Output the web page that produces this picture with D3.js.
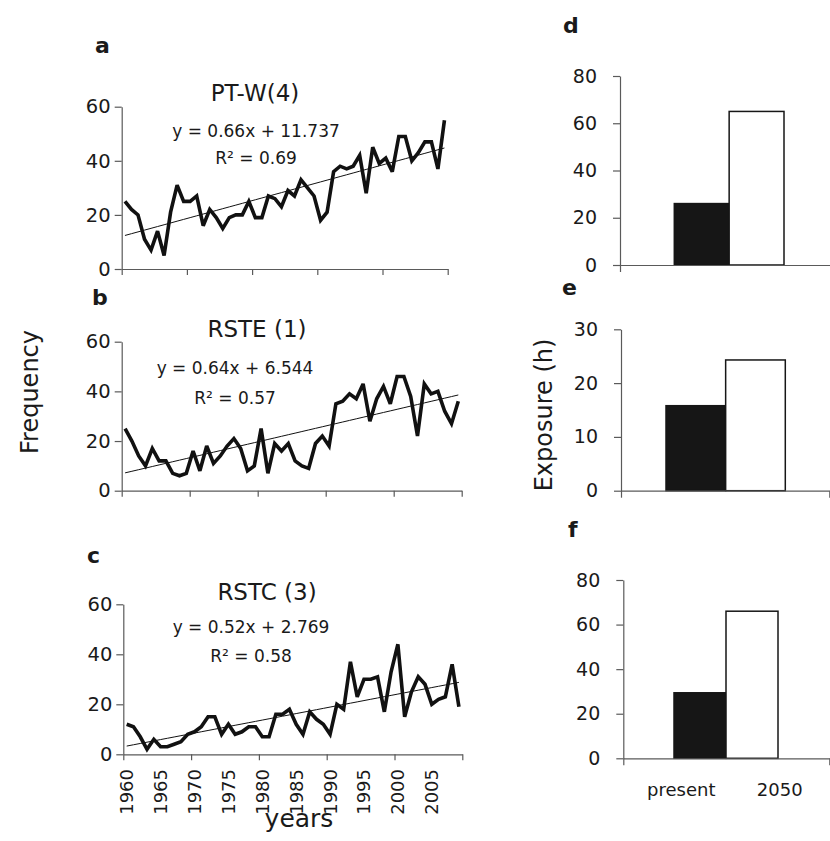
<!DOCTYPE html>
<html><head><meta charset="utf-8">
<script src="https://cdn.jsdelivr.net/npm/d3@7"></script>
<style>
body{margin:0;background:#fff}
svg{display:block}
text{font-family:"DejaVu Sans",sans-serif;fill:#1a1a1a}
</style>
</head><body>
<svg id="chart" width="830" height="841"></svg>
<script>
// ---------- DATA ----------
const years = [1960,1961,1962,1963,1964,1965,1966,1967,1968,1969,
               1970,1971,1972,1973,1974,1975,1976,1977,1978,1979,
               1980,1981,1982,1983,1984,1985,1986,1987,1988,1989,
               1990,1991,1992,1993,1994,1995,1996,1997,1998,1999,
               2000,2001,2002,2003,2004,2005,2006,2007,2008,2009];
const yearLabels = [1960,1965,1970,1975,1980,1985,1990,1995,2000,2005];
const yearTicks  = [1960,1970,1980,1990,2000,2010];

const ptw  = [25,22,20,11,7,14,5,21,31,25, 25,27,16,22,19,15,19,20,20,25,
              19,19,27,26,23,29,27,33,30,27, 18,21,36,38,37,38,42,28,45,39,
              41,36,49,49,40,43,47,47,37,55];
const rste = [25,20,14,10,17,12,12,7,6,7, 16,8,18,11,14,18,21,17,8,10,
              25,7,19,16,19,12,10,9,19,22, 18,35,36,39,37,43,28,37,42,35,
              46,46,38,22,43,39,40,32,27,36];
const rstc = [12,11,7,2,6,3,3,4,5,8, 9,11,15,15,8,12,8,9,11,11,
              7,7,16,16,18,12,8,17,14,12, 8,20,18,37,23,30,30,31,17,33,
              44,15,25,31,28,20,22,23,36,19];

const lineTitles = ["PT-W(4)", "RSTE (1)", "RSTC (3)"];
const trendSlopes = [0.66, 0.64, 0.52];
const trendIntercepts = [11.737, 6.544, 2.769];
const trendEquations = ["y = 0.66x + 11.737", "y = 0.64x + 6.544", "y = 0.52x + 2.769"];
const trendR2 = ["R\u00B2 = 0.69", "R\u00B2 = 0.57", "R\u00B2 = 0.58"];
const lineTicks = [0, 20, 40, 60];

const periods = ["present", "2050"];
const exposureD = [26, 65];
const exposureE = [15.8, 24.3];
const exposureF = [29.4, 66];
const barTicksDF = [0, 20, 40, 60, 80];
const barTicksE = [0, 10, 20, 30];

// ---------- LAYOUT ----------
const svg = d3.select("#chart");
const axisColor = "#5a5a5a";

const linePanels = [
  {letter:"a", lx:95,  ly:53,  data:ptw,  x0:121.7, x1:447.7, yb:269,   yt:106.7, titleX:255, titleY:101, eqX:256, eqY:137, r2Y:164, labels:false},
  {letter:"b", lx:92,  ly:305, data:rste, x0:121.7, x1:461.7, yb:490.7, yt:341.7, titleX:257, titleY:337, eqX:235, eqY:374, r2Y:404, labels:false},
  {letter:"c", lx:87,  ly:563, data:rstc, x0:123.3, x1:462.3, yb:754.3, yt:604.3, titleX:267, titleY:600, eqX:251, eqY:633, r2Y:662, labels:true}
];

function styleAxis(g, fs){
  g.selectAll("path.domain").attr("stroke", axisColor).attr("stroke-width", 1.2);
  g.selectAll(".tick line").attr("stroke", axisColor).attr("stroke-width", 1.2);
  g.selectAll(".tick text").style("font-family", '"DejaVu Sans",sans-serif').style("font-size", fs).attr("fill", "#1a1a1a");
}

linePanels.forEach((p, k) => {
  const xb = d3.scaleBand().domain(years).range([p.x0, p.x1]).padding(0);
  const xl = d3.scaleLinear().domain([1960, 2010]).range([p.x0, p.x1]);
  const y = d3.scaleLinear().domain([0, 60]).range([p.yb, p.yt]);
  const cx = d => xb(d) + xb.bandwidth() / 2;

  svg.append("text").attr("x", p.lx).attr("y", p.ly)
    .style("font-size", "22px").style("font-weight", "bold").text(p.letter);

  const gx = svg.append("g").attr("transform", `translate(0,${p.yb})`)
    .call(d3.axisBottom(xl).tickValues(yearTicks).tickFormat("").tickSize(6).tickSizeOuter(0));
  styleAxis(gx, "19px");

  const gy = svg.append("g").attr("transform", `translate(${p.x0},0)`)
    .call(d3.axisLeft(y).tickValues(lineTicks).tickSize(7).tickPadding(4).tickSizeOuter(0));
  styleAxis(gy, "19.5px");

  const trend = d3.line()
    .x(d => cx(d))
    .y((d, i) => y(trendSlopes[k] * (i + 1) + trendIntercepts[k]));
  svg.append("path").datum(years).attr("d", trend)
    .attr("fill", "none").attr("stroke", "#111").attr("stroke-width", 1);

  const line = d3.line().x((d, i) => cx(years[i])).y(d => y(d));
  svg.append("path").datum(p.data).attr("d", line)
    .attr("fill", "none").attr("stroke", "#111").attr("stroke-width", 3.6)
    .attr("stroke-linejoin", "miter").attr("stroke-miterlimit", 3);

  svg.append("text").attr("x", p.titleX).attr("y", p.titleY).attr("text-anchor", "middle")
    .style("font-size", "23px").text(lineTitles[k]);
  svg.append("text").attr("x", p.eqX).attr("y", p.eqY).attr("text-anchor", "middle")
    .style("font-size", "17px").text(trendEquations[k]);
  svg.append("text").attr("x", p.eqX).attr("y", p.r2Y).attr("text-anchor", "middle")
    .style("font-size", "17px").text(trendR2[k]);

  if (p.labels) {
    svg.append("g").selectAll("text").data(yearLabels).join("text")
      .attr("transform", d => `translate(${cx(d)},769) rotate(-90)`)
      .attr("text-anchor", "end").attr("dy", "0.36em")
      .style("font-size", "18px").text(d => d);
  }
});

svg.append("text").attr("transform", "translate(38,392) rotate(-90)")
  .attr("text-anchor", "middle").style("font-size", "24px").text("Frequency");
svg.append("text").attr("x", 299).attr("y", 827)
  .attr("text-anchor", "middle").style("font-size", "25px").text("years");
svg.append("text").attr("transform", "translate(552,415) rotate(-90)")
  .attr("text-anchor", "middle").style("font-size", "24px").text("Exposure (h)");

// ---------- BAR PANELS ----------
const barPanels = [
  {letter:"d", lx:563, ly:33,  data:exposureD, max:80, ticks:barTicksDF, ax:620,   axEnd:832,   yb:265,   yt:76,    b0:674.3, b1:784},
  {letter:"e", lx:562, ly:295, data:exposureE, max:30, ticks:barTicksE,  ax:621,   axEnd:829.3, yb:490.7, yt:329.3,  b0:666,   b1:785.3},
  {letter:"f", lx:568, ly:537, data:exposureF, max:80, ticks:barTicksDF, ax:623.3, axEnd:829.3, yb:758.3, yt:580,    b0:674,   b1:778}
];

barPanels.forEach((p, k) => {
  const y = d3.scaleLinear().domain([0, p.max]).range([p.yb, p.yt]);
  const xb = d3.scaleBand().domain(periods).range([p.b0, p.b1]).padding(0);
  const xa = d3.scaleLinear().domain([0, 1]).range([p.ax, p.axEnd]);

  svg.append("text").attr("x", p.lx).attr("y", p.ly)
    .style("font-size", "22px").style("font-weight", "bold").text(p.letter);

  const gy = svg.append("g").attr("transform", `translate(${p.ax},0)`)
    .call(d3.axisLeft(y).tickValues(p.ticks).tickSize(7).tickPadding(16).tickSizeOuter(0));
  styleAxis(gy, "19px");

  svg.selectAll(null).data(p.data).join("rect")
    .attr("x", (d, i) => xb(periods[i]))
    .attr("y", d => y(d))
    .attr("width", xb.bandwidth())
    .attr("height", d => p.yb - y(d))
    .attr("fill", (d, i) => i === 0 ? "#161616" : "#ffffff")
    .attr("stroke", "#161616").attr("stroke-width", 1.5);

  const gx = svg.append("g").attr("transform", `translate(0,${p.yb})`)
    .call(d3.axisBottom(xa).tickValues([0, 1]).tickFormat("").tickSize(7).tickSizeOuter(0));
  styleAxis(gx, "19px");

  if (k === 2) {
    const xlab = d3.scaleBand().domain(periods).range([632, 829]);
    svg.append("g").selectAll("text").data(periods).join("text")
      .attr("x", d => xlab(d) + xlab.bandwidth() / 2).attr("y", 796)
      .attr("text-anchor", "middle").style("font-size", "18px").text(d => d);
  }
});
</script>
</body></html>
